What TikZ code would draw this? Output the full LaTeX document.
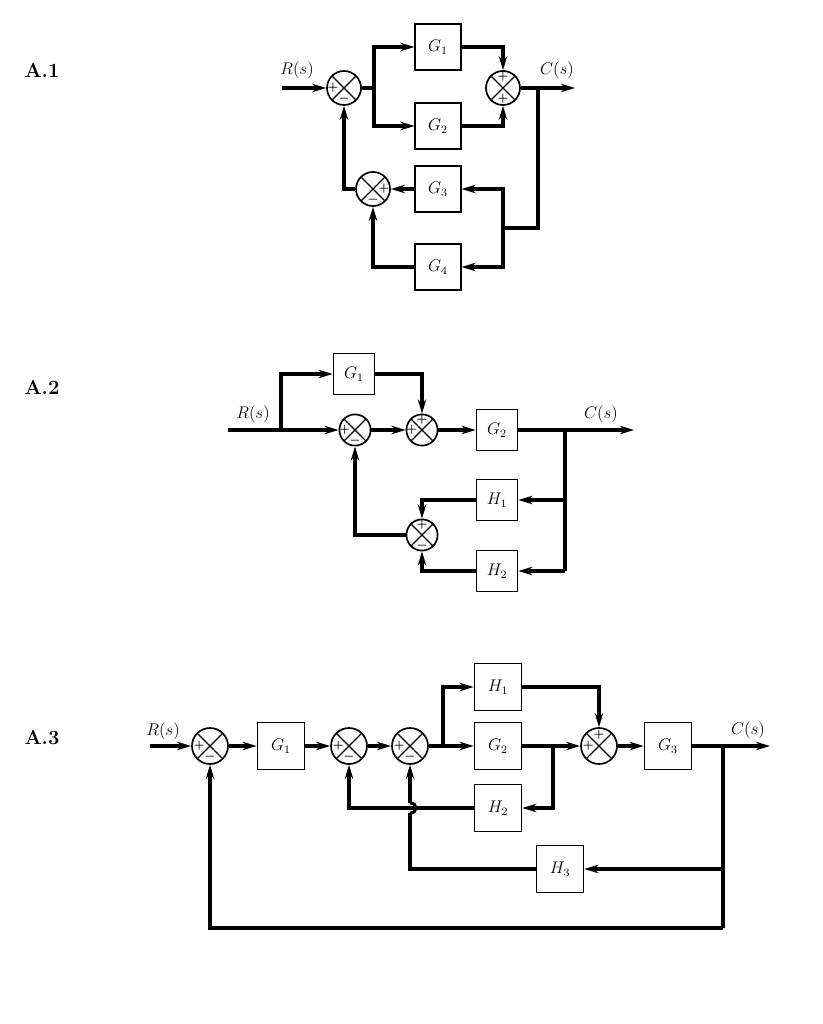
\documentclass[tikz,border=0pt]{standalone}
\usepackage{amsmath,amssymb}
\usepackage{tikz}
\usetikzlibrary{arrows.meta, positioning, calc}

\begin{document}
\begin{tikzpicture}[x=0.025cm, y=-0.025cm,
    blk/.style={draw, line width=1pt, minimum size=1.14cm, inner sep=0pt, font=\large},
    sumpt/.style={draw, circle, line width=1.2pt, minimum size=0.85cm, inner sep=0pt,
                  path picture={\draw[line width=0.9pt]
                      (path picture bounding box.north west) -- (path picture bounding box.south east)
                      (path picture bounding box.north east) -- (path picture bounding box.south west);}},
    sgn/.style={font=\footnotesize\boldmath, inner sep=0pt, anchor=center, label distance=-0.17cm},
    line/.style={line width=2.2pt, line join=miter},
    sig/.style={line, -{Stealth[length=10pt, width=6pt]}},
    lbl/.style={font=\large},
    tag/.style={font=\Large\bfseries}
]
\useasboundingbox (0,0) rectangle (822,1024);

% A.1
\node[tag] (t1) at (42,70) {A.1};
\node[sumpt, label={[sgn]180:$+$}, label={[sgn]270:$-$}] (a1s1) at (344,88) {};
\node[blk] (a1g1) at (438,47) {$G_1$};
\node[blk] (a1g2) at (438,126) {$G_2$};
\node[sumpt, label={[sgn]90:$+$}, label={[sgn]270:$+$}] (a1s2) at (503,88) {};
\node[blk] (a1g3) at (438,189) {$G_3$};
\node[sumpt, label={[sgn]0:$+$}, label={[sgn]270:$-$}] (a1s3) at (373,189) {};
\node[blk] (a1g4) at (438,267) {$G_4$};
\node[lbl] (a1r) at (297,70) {$R(s)$};
\node[lbl] (a1c) at (557,70) {$C(s)$};
\coordinate (a1in) at (282,88);
\coordinate (a1sp) at (374,88);
\coordinate (a1fb) at (538,88);
\coordinate (a1out) at (575,88);
\coordinate (a1j) at (503,228);

\draw[sig] (a1in) -- (a1s1);
\draw[line] (a1s1) -- (a1sp);
\draw[sig] (a1sp) |- (a1g1);
\draw[sig] (a1sp) |- (a1g2);
\draw[sig] (a1g1) -| (a1s2);
\draw[sig] (a1g2) -| (a1s2);
\draw[sig] (a1s2) -- (a1out);
\draw[line] (a1fb) |- (a1j);
\draw[sig] (a1j) |- (a1g3);
\draw[sig] (a1j) |- (a1g4);
\draw[sig] (a1g3) -- (a1s3);
\draw[sig] (a1g4) -| (a1s3);
\draw[sig] (a1s3) -| (a1s1);

% A.2
\begin{scope}[blk/.append style={minimum size=1.03cm},
              sumpt/.append style={minimum size=0.78cm},
              sgn/.append style={label distance=-0.15cm}]
\node[tag] (t2) at (42,387) {A.2};
\node[blk] (a2g1) at (354,374) {$G_1$};
\node[sumpt, label={[sgn]180:$+$}, label={[sgn]270:$-$}] (a2s1) at (355,430) {};
\node[sumpt, label={[sgn]90:$+$}, label={[sgn]180:$+$}] (a2s2) at (422,430) {};
\node[blk] (a2g2) at (497,430) {$G_2$};
\node[blk] (a2h1) at (497,500) {$H_1$};
\node[blk] (a2h2) at (497,571) {$H_2$};
\node[sumpt, label={[sgn]90:$+$}, label={[sgn]270:$-$}] (a2s3) at (422,535) {};
\node[lbl] (a2r) at (253,414) {$R(s)$};
\node[lbl] (a2c) at (601,414) {$C(s)$};
\coordinate (a2in) at (228,430);
\coordinate (a2sp) at (281,430);
\coordinate (a2fb) at (565,430);
\coordinate (a2out) at (634,430);
\coordinate (a2bot) at (565,571);

\draw[line] (a2in) -- (a2sp);
\draw[sig] (a2sp) -- (a2s1);
\draw[sig] (a2sp) |- (a2g1);
\draw[sig] (a2g1) -| (a2s2);
\draw[sig] (a2s1) -- (a2s2);
\draw[sig] (a2s2) -- (a2g2);
\draw[sig] (a2g2) -- (a2out);
\draw[line] (a2fb) -- (a2bot);
\draw[sig] (a2bot) -- (a2h2);
\draw[sig] (a2fb |- a2h1) -- (a2h1);
\draw[sig] (a2h1) -| (a2s3);
\draw[sig] (a2h2) -| (a2s3);
\draw[sig] (a2s3) -| (a2s1);
\end{scope}

% A.3
\begin{scope}[blk/.append style={minimum size=1.18cm},
              sumpt/.append style={minimum size=0.9cm},
              sgn/.append style={label distance=-0.2cm}]
\node[tag] (t3) at (42,738) {A.3};
\node[sumpt, label={[sgn]180:$+$}, label={[sgn]270:$-$}] (a3s1) at (210,746) {};
\node[blk] (a3g1) at (281,746) {$G_1$};
\node[sumpt, label={[sgn]180:$+$}, label={[sgn]270:$-$}] (a3s2) at (349,746) {};
\node[sumpt, label={[sgn]180:$+$}, label={[sgn]270:$-$}] (a3s3) at (410,746) {};
\node[blk] (a3h1) at (498,687) {$H_1$};
\node[blk] (a3g2) at (498,746) {$G_2$};
\node[sumpt, label={[sgn]90:$+$}, label={[sgn]180:$+$}] (a3s4) at (599,746) {};
\node[blk] (a3g3) at (668,746) {$G_3$};
\node[blk] (a3h2) at (498,808) {$H_2$};
\node[blk] (a3h3) at (560,869) {$H_3$};
\node[lbl] (a3r) at (163,731) {$R(s)$};
\node[lbl] (a3c) at (748,730) {$C(s)$};
\coordinate (a3in) at (150,746);
\coordinate (a3sp) at (443,746);
\coordinate (a3sp2) at (553,746);
\coordinate (a3fb) at (723,746);
\coordinate (a3out) at (770,746);
\coordinate (a3hlo) at (410,813);
\coordinate (a3hhi) at (410,803);
\coordinate (a3bot) at (723,928);

\draw[sig] (a3in) -- (a3s1);
\draw[sig] (a3s1) -- (a3g1);
\draw[sig] (a3g1) -- (a3s2);
\draw[sig] (a3s2) -- (a3s3);
\draw[line] (a3s3) -- (a3sp);
\draw[sig] (a3sp) |- (a3h1);
\draw[sig] (a3sp) -- (a3g2);
\draw[sig] (a3g2) -- (a3s4);
\draw[sig] (a3h1) -| (a3s4);
\draw[sig] (a3s4) -- (a3g3);
\draw[sig] (a3g3) -- (a3out);
\draw[sig] (a3sp2) |- (a3h2);
\draw[sig] (a3h2) -| (a3s2);
\draw[sig] (a3fb |- a3h3) -- (a3h3);
% H3 feedback hops over the H2 line
\draw[line] (a3h3) -| (a3hlo);
\draw[line] (a3hlo) .. controls +(8,0) and +(8,0) .. (a3hhi);
\draw[sig] (a3hhi) -- (a3s3);
\draw[line] (a3fb) -- (a3bot);
\draw[sig] (a3bot) -| (a3s1);
\end{scope}
\end{tikzpicture}
\end{document}
